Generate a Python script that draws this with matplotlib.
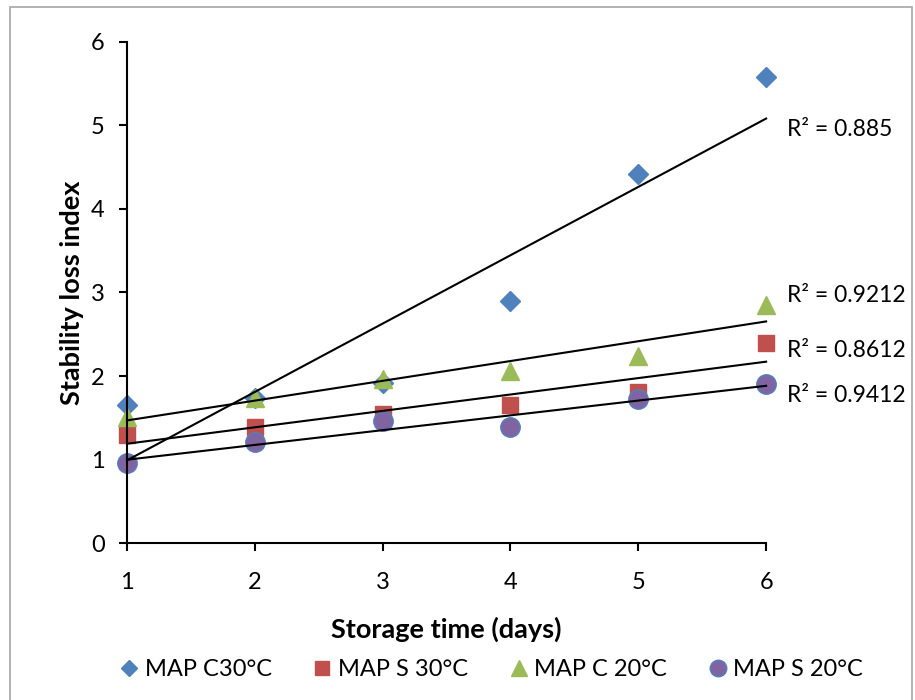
import numpy as np
import matplotlib.pyplot as plt
from matplotlib.patches import Rectangle

plt.rcParams['font.family'] = ['Lato', 'DejaVu Sans']

# storage time (days)
days = [1, 2, 3, 4, 5, 6]

# stability loss index per treatment
map_c30 = [1.66, 1.74, 1.92, 2.90, 4.42, 5.58]
map_s30 = [1.29, 1.39, 1.55, 1.66, 1.81, 2.39]
map_c20 = [1.51, 1.74, 1.97, 2.06, 2.24, 2.85]
map_s20 = [0.96, 1.21, 1.46, 1.39, 1.73, 1.90]

labels = ['MAP C30°C', 'MAP S 30°C', 'MAP C 20°C', 'MAP S 20°C']
r2_labels = ['R² = 0.885', 'R² = 0.8612', 'R² = 0.9212', 'R² = 0.9412']

fig = plt.figure(figsize=(9.15, 7), dpi=100)
ax = fig.add_axes([0.1388, 0.2239, 0.6985, 0.7165])

# outer chart frame
fig.patches.append(Rectangle((0.011, -0.01), 0.986, 1.0, transform=fig.transFigure,
                             fill=False, edgecolor='#a6a6a6', linewidth=1.2))

series = [
    (map_c30, 'D', '#4F81BD', '#4F81BD', 10),
    (map_s30, 's', '#C0504D', '#C0504D', 12),
    (map_c20, '^', '#9BBB59', '#9BBB59', 13),
    (map_s20, 'o', '#8064A2', '#4F81BD', 14),
]

x = np.array(days, dtype=float)
handles = []
for (vals, mk, fc, ec, ms), lab in zip(series, labels):
    h, = ax.plot(days, vals, linestyle='none', marker=mk, markersize=ms,
                 markerfacecolor=fc, markeredgecolor=ec, markeredgewidth=1.0,
                 label=lab, zorder=3, clip_on=False)
    handles.append(h)

# linear trendlines on top of markers
for vals, _, _, _, _ in series:
    k, b = np.polyfit(x, vals, 1)
    ax.plot([x[0], x[-1]], [k * x[0] + b, k * x[-1] + b], color='black',
            linewidth=1.5, zorder=4, clip_on=False)

# R² labels next to the line ends
r2_y = [4.95, 2.31, 2.97, 1.77]
for txt, yy in zip(r2_labels, r2_y):
    ax.text(6.16, yy, txt, fontsize=16.5, va='center', ha='left', clip_on=False)

ax.set_xlim(1, 6)
ax.set_ylim(0, 6)
ax.set_xticks(days)
ax.set_yticks(range(0, 7))
ax.tick_params(axis='both', direction='out', length=6, width=1.5, labelsize=17,
               colors='black')
ax.tick_params(axis='x', pad=15)
ax.tick_params(axis='y', pad=10)
for s in ['top', 'right']:
    ax.spines[s].set_visible(False)
for s in ['left', 'bottom']:
    ax.spines[s].set_linewidth(1.5)
ax.spines['left'].set_zorder(5)

ax.set_xlabel('Storage time (days)', fontsize=19.5, fontweight='bold', labelpad=17)
ax.set_ylabel('Stability loss index', fontsize=19.5, fontweight='bold', labelpad=5)

fig.legend(handles=handles, labels=labels, loc='center', ncol=4,
           bbox_to_anchor=(0.535, 0.043), frameon=False, fontsize=17,
           handletextpad=0.1, columnspacing=1.6, handlelength=1.1,
           markerscale=0.85)

fig.savefig('out.png', dpi=100)
